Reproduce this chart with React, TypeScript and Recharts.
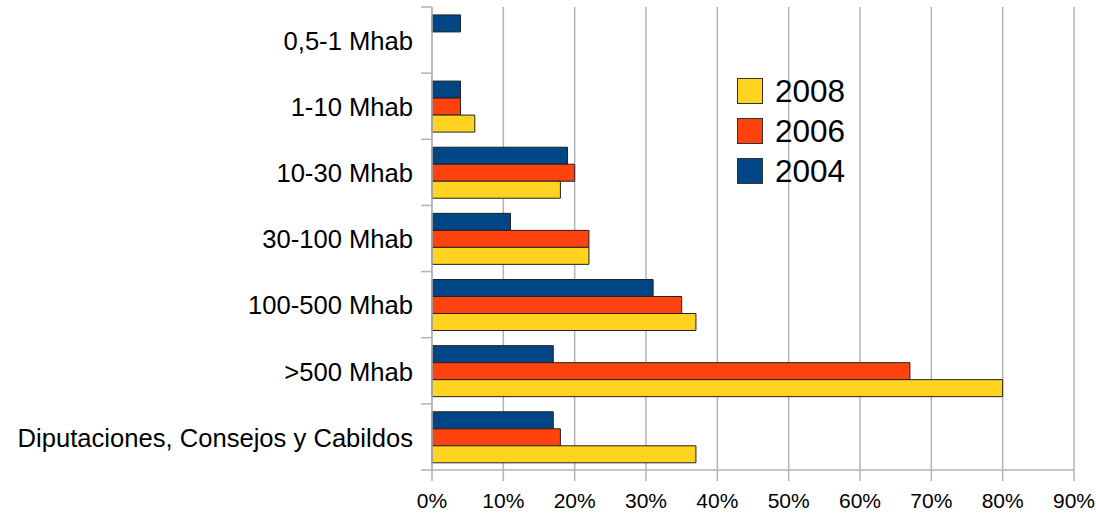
import React from "react";
import {
  BarChart,
  Bar,
  XAxis,
  YAxis,
  CartesianGrid,
  Legend,
} from "recharts";

// Municipality size groups, top to bottom
const categories = [
  "0,5-1 Mhab",
  "1-10 Mhab",
  "10-30 Mhab",
  "30-100 Mhab",
  "100-500 Mhab",
  ">500 Mhab",
  "Diputaciones, Consejos y Cabildos",
];

// Percentages per survey year
const values2004 = [4, 4, 19, 11, 31, 17, 17];
const values2006 = [0, 4, 20, 22, 35, 67, 18];
const values2008 = [0, 6, 18, 22, 37, 80, 37];

const xTicks = [0, 10, 20, 30, 40, 50, 60, 70, 80, 90];

const COLORS = {
  y2004: "#004586",
  y2006: "#ff420e",
  y2008: "#ffd320",
};
const GRID = "#b3b3b3";
const FONT = "'Liberation Sans', Arial, sans-serif";

const data = categories.map((name, i) => ({
  name,
  y2004: values2004[i],
  y2006: values2006[i],
  y2008: values2008[i],
}));

const legendItems = [
  { label: "2008", color: COLORS.y2008 },
  { label: "2006", color: COLORS.y2006 },
  { label: "2004", color: COLORS.y2004 },
];

const Y_TICK_SIZE = 11;
const Y_TICK_MARGIN = 8;

// Category label plus short tick marks at the band boundaries
const CategoryTick = (props: any) => {
  const { x, y, payload, index, visibleTicksCount } = props;
  const half = payload && typeof payload.offset === "number" && payload.offset > 0 ? payload.offset : 33;
  const axisX = x + Y_TICK_MARGIN + Y_TICK_SIZE;
  const isLast = index === visibleTicksCount - 1;
  return (
    <g>
      <line x1={axisX - Y_TICK_SIZE} x2={axisX} y1={y - half} y2={y - half} stroke={GRID} strokeWidth={1.5} />
      {isLast && (
        <line x1={axisX - Y_TICK_SIZE} x2={axisX} y1={y + half} y2={y + half} stroke={GRID} strokeWidth={1.5} />
      )}
      <text
        x={x}
        y={y}
        dy="0.38em"
        textAnchor="end"
        fill="#000"
        fontSize={25.6}
        fontFamily={FONT}
      >
        {payload.value}
      </text>
    </g>
  );
};

const LegendBox = () => (
  <div style={{ fontFamily: FONT }}>
    {legendItems.map((it) => (
      <div
        key={it.label}
        style={{ display: "flex", alignItems: "center", height: 40 }}
      >
        <div
          style={{
            width: 24,
            height: 24,
            background: it.color,
            border: "1px solid #333",
            marginRight: 12,
          }}
        />
        <span style={{ fontSize: 31.5, color: "#000", lineHeight: "40px" }}>
          {it.label}
        </span>
      </div>
    ))}
  </div>
);

export default function App() {
  return (
    <div style={{ position: "absolute", left: 0, top: 0, background: "#fff" }}>
      <BarChart
        width={1096}
        height={513}
        data={data}
        layout="vertical"
        margin={{ top: 7, right: 22, bottom: 0, left: 0 }}
        barCategoryGap="12%"
        barGap={0}
      >
        <CartesianGrid horizontal={false} stroke={GRID} strokeWidth={1.5} />
        <XAxis
          type="number"
          domain={[0, 90]}
          ticks={xTicks}
          tickFormatter={(v) => `${v}%`}
          height={43}
          tickSize={11}
          tickMargin={12}
          axisLine={{ stroke: GRID, strokeWidth: 1.5 }}
          tickLine={{ stroke: GRID, strokeWidth: 1.5 }}
          tick={{ fill: "#000", fontSize: 21, fontFamily: FONT }}
          interval={0}
        />
        <XAxis
          xAxisId="top"
          orientation="top"
          type="number"
          domain={[0, 90]}
          height={0}
          tick={false}
          tickLine={false}
          axisLine={{ stroke: GRID, strokeWidth: 1.5 }}
        />
        <YAxis
          type="category"
          dataKey="name"
          width={432}
          tickSize={Y_TICK_SIZE}
          tickMargin={Y_TICK_MARGIN}
          tickLine={false}
          axisLine={{ stroke: GRID, strokeWidth: 1.5 }}
          tick={<CategoryTick />}
          interval={0}
        />
        <Legend
          layout="vertical"
          align="center"
          verticalAlign="middle"
          content={<LegendBox />}
          wrapperStyle={{ left: 737, top: 71, width: 140, height: 120 }}
        />
        <Bar dataKey="y2004" name="2004" fill={COLORS.y2004} stroke="#222" strokeWidth={1} isAnimationActive={false} />
        <Bar dataKey="y2006" name="2006" fill={COLORS.y2006} stroke="#222" strokeWidth={1} isAnimationActive={false} />
        <Bar dataKey="y2008" name="2008" fill={COLORS.y2008} stroke="#222" strokeWidth={1} isAnimationActive={false} />
      </BarChart>
    </div>
  );
}
